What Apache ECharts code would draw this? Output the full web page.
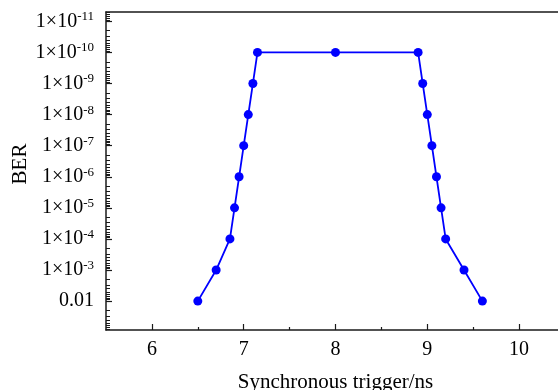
<!DOCTYPE html>
<html>
<head>
<meta charset="utf-8">
<script src="https://cdn.jsdelivr.net/npm/echarts@6/dist/echarts.min.js"></script>
<style>
html,body{margin:0;padding:0;background:#fff;}
#chart{width:558px;height:390px;}
</style>
</head>
<body>
<div id="chart"></div>
<script>
// Data
const triggerNs = [6.5, 6.7, 6.85, 6.9, 6.95, 7.0, 7.05, 7.1, 7.15, 8.0, 8.9, 8.95, 9.0, 9.05, 9.1, 9.15, 9.2, 9.4, 9.6];
const berValues = [1e-2, 1e-3, 1e-4, 1e-5, 1e-6, 1e-7, 1e-8, 1e-9, 1e-10, 1e-10, 1e-10, 1e-9, 1e-8, 1e-7, 1e-6, 1e-5, 1e-4, 1e-3, 1e-2];
const xTickValues = [6, 7, 8, 9, 10];
const xMinorTickValues = [6.5, 7.5, 8.5, 9.5];
const yTickValues = [1e-11, 1e-10, 1e-9, 1e-8, 1e-7, 1e-6, 1e-5, 1e-4, 1e-3, 1e-2];
const xName = 'Synchronous trigger/ns';
const yName = 'BER';

const xMin = 5.5, xMax = 10.5;
const yMin = 5e-12, yMax = 0.085;

const yMinorTickValues = [];
for (let e = -12; e <= -2; e++) {
  for (let m = 2; m <= 9; m++) {
    const v = m * Math.pow(10, e);
    if (v >= yMin && v <= yMax) yMinorTickValues.push(v);
  }
}

const FONT = '"Liberation Serif", "Times New Roman", serif';
const AX = '#1a1a1a';

const chart = echarts.init(document.getElementById('chart'));
chart.setOption({
  backgroundColor: '#fff',
  animation: false,
  grid: { left: 106, top: 12, right: -7, bottom: 60, containLabel: false, outerBoundsMode: 'none' },
  xAxis: [
    {
      type: 'value', position: 'bottom', min: xMin, max: xMax,
      name: xName, nameLocation: 'middle', nameGap: 42, nameMoveOverlap: false,
      nameTextStyle: { fontFamily: FONT, fontSize: 21, color: '#000' },
      axisLine: { show: true, onZero: false, lineStyle: { color: AX, width: 1.5 } },
      axisTick: { show: true, inside: true, length: 6, customValues: xTickValues, lineStyle: { color: AX, width: 1.2 } },
      axisLabel: { show: true, customValues: xTickValues, margin: 10, fontFamily: FONT, fontSize: 20, color: '#000' },
      splitLine: { show: false }
    },
    {
      type: 'value', position: 'bottom', min: xMin, max: xMax,
      axisLine: { show: false },
      axisTick: { show: true, inside: true, length: 3, customValues: xMinorTickValues, lineStyle: { color: AX, width: 1.2 } },
      axisLabel: { show: false },
      splitLine: { show: false }
    },
    {
      type: 'value', position: 'top', min: xMin, max: xMax,
      axisLine: { show: true, onZero: false, lineStyle: { color: AX, width: 1.5 } },
      axisTick: { show: false },
      axisLabel: { show: false },
      splitLine: { show: false }
    }
  ],
  yAxis: [
    {
      type: 'log', position: 'left', inverse: true, min: yMin, max: yMax, logBase: 10,
      name: yName, nameLocation: 'middle', nameGap: 75, nameRotate: 90, nameMoveOverlap: false,
      nameTextStyle: { fontFamily: FONT, fontSize: 21, color: '#000', padding: [0, 0, 0, 14] },
      axisLine: { show: true, onZero: false, lineStyle: { color: AX, width: 1.5 } },
      axisTick: { show: true, inside: true, length: 6, customValues: yTickValues, lineStyle: { color: AX, width: 1.2 } },
      axisLabel: {
        show: true, customValues: yTickValues, margin: 12,
        formatter: function (v) {
          const e = Math.round(Math.log10(v));
          if (e === -2) return '{b|0.01}';
          return '{b|1×10}{s|' + e + '}';
        },
        rich: {
          b: { fontFamily: FONT, fontSize: 20, color: '#000', lineHeight: 22 },
          s: { fontFamily: FONT, fontSize: 13, color: '#000', verticalAlign: 'top', lineHeight: 13 }
        }
      },
      splitLine: { show: false }
    },
    {
      type: 'log', position: 'left', inverse: true, min: yMin, max: yMax, logBase: 10,
      axisLine: { show: false },
      axisTick: { show: true, inside: true, length: 4, customValues: yMinorTickValues, lineStyle: { color: AX, width: 1 } },
      axisLabel: { show: false },
      splitLine: { show: false }
    }
  ],
  series: [{
    type: 'line',
    xAxisIndex: 0, yAxisIndex: 0,
    data: triggerNs.map((x, i) => [x, berValues[i]]),
    symbol: 'circle', symbolSize: 9,
    lineStyle: { color: '#0000ff', width: 1.8 },
    itemStyle: { color: '#0000ff' },
    clip: false
  }]
});
</script>
</body>
</html>
